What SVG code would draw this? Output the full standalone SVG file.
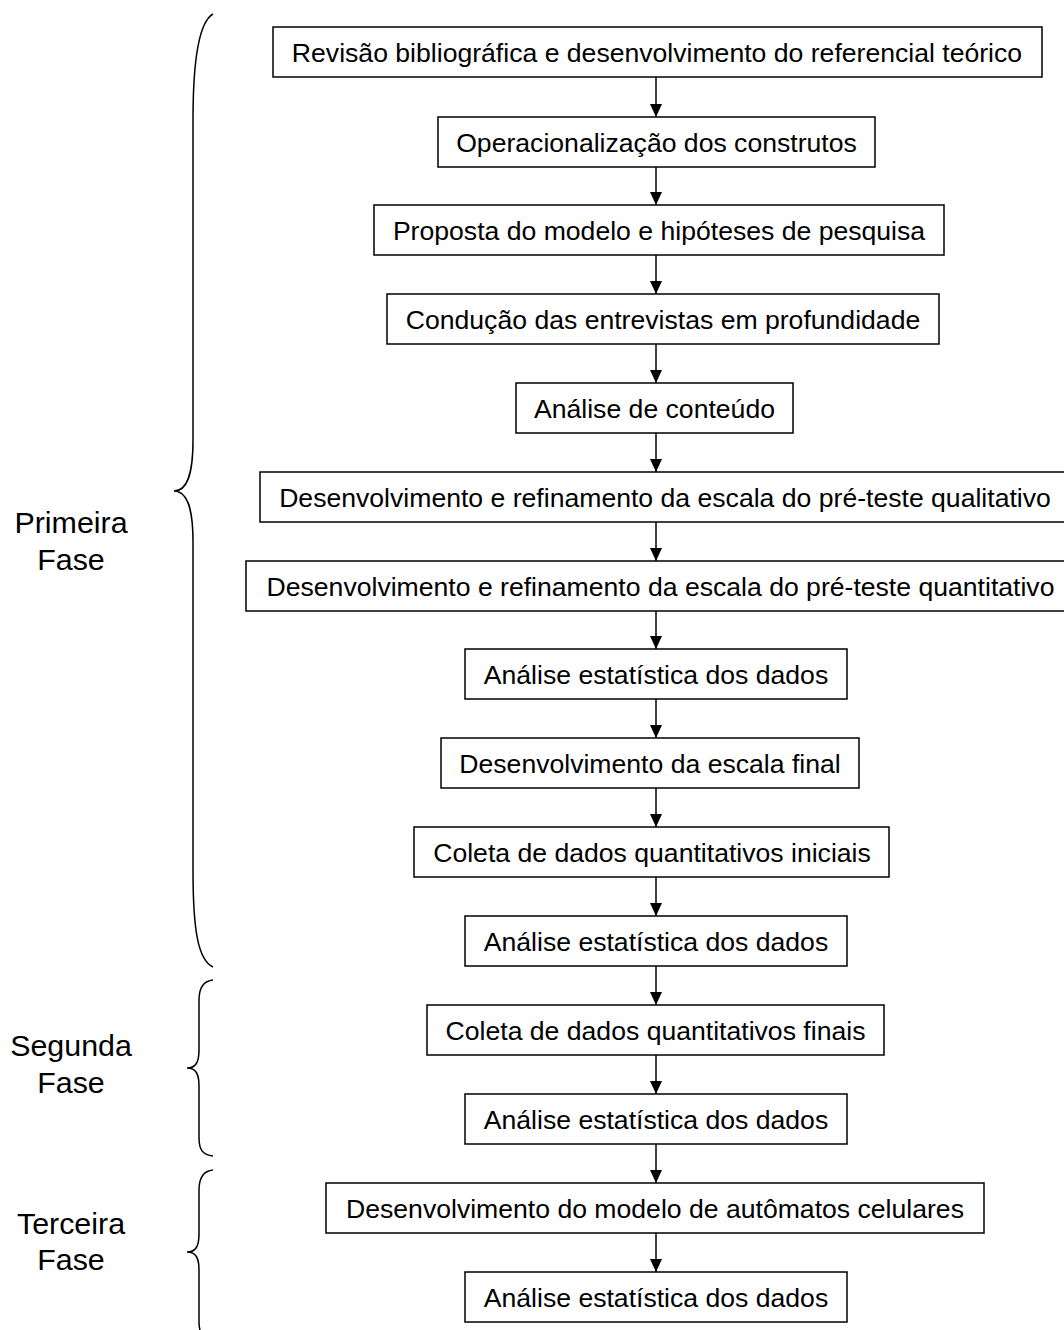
<svg xmlns="http://www.w3.org/2000/svg" width="1064" height="1330" viewBox="0 0 1064 1330">
<defs>
<style>
.box rect{fill:#fff;stroke:#000;stroke-width:1.5}
.box text{font-family:"Liberation Sans",Arial,sans-serif;font-size:26.6px;fill:#000;text-anchor:middle}
.lbl{font-family:"Liberation Sans",Arial,sans-serif;font-size:30.4px;fill:#000;text-anchor:middle}
.brace{fill:none;stroke:#000;stroke-width:1.5}
.conn line{stroke:#000;stroke-width:1.5}
</style>
<marker id="ah" viewBox="0 0 13 12" refX="13" refY="6" markerWidth="13" markerHeight="12" markerUnits="userSpaceOnUse" orient="auto">
<path d="M0,0 L13,6 L0,12 Z" fill="#000"/>
</marker>
</defs>
<rect width="1064" height="1330" fill="#fff"/>
<g id="connectors" class="conn">
<line x1="656" y1="77" x2="656" y2="117" marker-end="url(#ah)"/>
<line x1="656" y1="167" x2="656" y2="205" marker-end="url(#ah)"/>
<line x1="656" y1="255" x2="656" y2="294" marker-end="url(#ah)"/>
<line x1="656" y1="344" x2="656" y2="383" marker-end="url(#ah)"/>
<line x1="656" y1="433" x2="656" y2="472" marker-end="url(#ah)"/>
<line x1="656" y1="522" x2="656" y2="561" marker-end="url(#ah)"/>
<line x1="656" y1="611" x2="656" y2="649" marker-end="url(#ah)"/>
<line x1="656" y1="699" x2="656" y2="738" marker-end="url(#ah)"/>
<line x1="656" y1="788" x2="656" y2="827" marker-end="url(#ah)"/>
<line x1="656" y1="877" x2="656" y2="916" marker-end="url(#ah)"/>
<line x1="656" y1="966" x2="656" y2="1005" marker-end="url(#ah)"/>
<line x1="656" y1="1055" x2="656" y2="1094" marker-end="url(#ah)"/>
<line x1="656" y1="1144" x2="656" y2="1183" marker-end="url(#ah)"/>
<line x1="656" y1="1233" x2="656" y2="1272" marker-end="url(#ah)"/>
</g>
<g id="n1" class="box"><rect x="273" y="27" width="769" height="50"/><text x="657" y="62">Revisão bibliográfica e desenvolvimento do referencial teórico</text></g>
<g id="n2" class="box"><rect x="438" y="117" width="437" height="50"/><text x="656.5" y="152">Operacionalização dos construtos</text></g>
<g id="n3" class="box"><rect x="374" y="205" width="570" height="50"/><text x="659" y="240">Proposta do modelo e hipóteses de pesquisa</text></g>
<g id="n4" class="box"><rect x="387" y="294" width="552" height="50"/><text x="663" y="329">Condução das entrevistas em profundidade</text></g>
<g id="n5" class="box"><rect x="516" y="383" width="277" height="50"/><text x="654.5" y="418">Análise de conteúdo</text></g>
<g id="n6" class="box"><rect x="260" y="472" width="810" height="50"/><text x="665" y="507">Desenvolvimento e refinamento da escala do pré-teste qualitativo</text></g>
<g id="n7" class="box"><rect x="246" y="561" width="829" height="50"/><text x="660.5" y="596">Desenvolvimento e refinamento da escala do pré-teste quantitativo</text></g>
<g id="n8" class="box"><rect x="465" y="649" width="382" height="50"/><text x="656" y="684">Análise estatística dos dados</text></g>
<g id="n9" class="box"><rect x="441" y="738" width="418" height="50"/><text x="650" y="773">Desenvolvimento da escala final</text></g>
<g id="n10" class="box"><rect x="414" y="827" width="475" height="50"/><text x="652" y="862">Coleta de dados quantitativos iniciais</text></g>
<g id="n11" class="box"><rect x="465" y="916" width="382" height="50"/><text x="656" y="951">Análise estatística dos dados</text></g>
<g id="n12" class="box"><rect x="427" y="1005" width="457" height="50"/><text x="655.5" y="1040">Coleta de dados quantitativos finais</text></g>
<g id="n13" class="box"><rect x="465" y="1094" width="382" height="50"/><text x="656" y="1129">Análise estatística dos dados</text></g>
<g id="n14" class="box"><rect x="326" y="1183" width="658" height="50"/><text x="655" y="1218">Desenvolvimento do modelo de autômatos celulares</text></g>
<g id="n15" class="box"><rect x="465" y="1272" width="382" height="50"/><text x="656" y="1307">Análise estatística dos dados</text></g>
<g id="fase1">
<path class="brace" d="M213,14 C199,22 193,60 193,120 L193,440 C193,475 187,491 174,491 C187,491 193,507 193,542 L193,870 C193,930 198,960 213,967"/>
<text class="lbl" x="71" y="533">Primeira</text>
<text class="lbl" x="71" y="570">Fase</text>
</g>
<g id="fase2">
<path class="brace" d="M213,980 C203,981 199,988 199,1000 L199,1050 C199,1062 196,1068 187,1068 C196,1068 199,1074 199,1086 L199,1138 C199,1150 203,1155 213,1156"/>
<text class="lbl" x="71" y="1056">Segunda</text>
<text class="lbl" x="71" y="1093">Fase</text>
</g>
<g id="fase3">
<path class="brace" d="M213,1170 C203,1171 199,1178 199,1190 L199,1234 C199,1246 196,1252 187,1252 C196,1252 199,1258 199,1270 L199,1322 C199,1334 203,1339 213,1340"/>
<text class="lbl" x="71" y="1234">Terceira</text>
<text class="lbl" x="71" y="1270">Fase</text>
</g>
</svg>
